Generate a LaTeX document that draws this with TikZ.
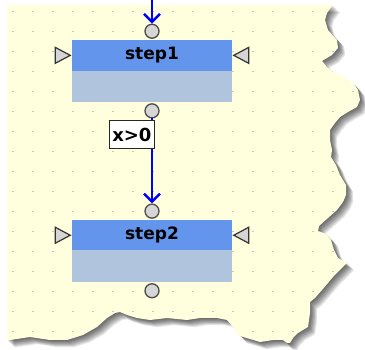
\documentclass[tikz,border=0pt]{standalone}
\usepackage{fontspec}
\setsansfont{DejaVu Sans}
\usetikzlibrary{positioning, arrows.meta, shapes.geometric}

\definecolor{paper}{RGB}{255,255,221}
\definecolor{stephead}{RGB}{100,149,237}
\definecolor{stepbody}{RGB}{176,196,222}
\definecolor{portgray}{RGB}{214,214,214}
\definecolor{dotgray}{RGB}{200,200,195}

\tikzset{
	stephead/.style={fill=stephead, minimum width=160pt, minimum height=30.5pt,
		inner sep=0pt, font=\sffamily\bfseries\fontsize{17}{17}\selectfont},
	stepbody/.style={fill=stepbody, minimum width=160pt, minimum height=31.5pt,
		inner sep=0pt},
	port/.style={circle, draw=black!70, fill=portgray, line width=1.3pt,
		minimum size=14pt, inner sep=0pt},
	tab/.style={isosceles triangle, isosceles triangle stretches,
		draw=black!80, fill=portgray, line width=1.2pt, minimum width=16pt,
		minimum height=15pt, inner sep=0pt},
	cond/.style={draw=black!85, fill=white, line width=1.2pt, minimum width=45pt,
		minimum height=28pt, inner sep=1pt,
		font=\sffamily\bfseries\fontsize{18}{18}\selectfont},
	flow/.style={draw=blue, line width=2.5pt,
		-{Straight Barb[length=8pt,width=16pt]}}
}

\def\paperoutline{(7,5) -- (333,5) -- (327,13) -- (325,20) -- (328,30)
	-- (337,40) -- (338,48) -- (332,55) -- (322,61) -- (327,67) -- (333,72)
	-- (343,77) -- (353,83) -- (358,90) -- (360,100) -- (357,107) -- (348,112)
	-- (340,117) -- (335,123) -- (330,130) -- (330,140) -- (332,150)
	-- (331,157) -- (336,165) -- (340,175) -- (346,185) -- (346,195)
	-- (343,202) -- (337,210) -- (328,218) -- (319,226) -- (318,231)
	-- (326,234) -- (331,240) -- (334,250) -- (338,258) -- (347,263)
	-- (340,270) -- (333,277) -- (328,283) -- (322,290) -- (315,298)
	-- (310,302) -- (310,313) -- (308,327) -- (303,330) -- (298,333)
	-- (293,338) -- (290,343) -- (287,343) -- (283,340) -- (273,340)
	-- (260,342) -- (240,336) -- (233,327) -- (227,320) -- (217,318)
	-- (200,318) -- (187,320) -- (167,318) -- (150,320) -- (137,318)
	-- (127,315) -- (120,312) -- (115,313) -- (107,318) -- (97,327)
	-- (83,335) -- (67,340) -- (50,340) -- (30,337) -- (10,340) -- (7,340)
	-- cycle}

\begin{document}
\begin{tikzpicture}[x=1pt, y=-1pt, >=Latex]
	\useasboundingbox[fill=white] (0,0) rectangle (365,350);

	% torn sheet
	\foreach \d in {1,...,9}
		\fill[black, opacity=0.085, shift={(\d*0.8,\d*0.8)}] \paperoutline;
	\fill[paper] \paperoutline;
	\begin{scope}
		\clip \paperoutline;
		\foreach \i in {0,...,17}
			\foreach \j in {0,...,16}
				\fill[dotgray] ({12+20*\i},{11.5+20*\j}) rectangle ++(2,1);
	\end{scope}

	% step1
	\node[stepbody] (step1body) at (152,86.25) {};
	\node[stephead, above=-0.5pt of step1body] (step1head) {step1};
	\node[port, above=1pt of step1head] (step1in) {};
	\node[port, below=1pt of step1body] (step1out) {};
	\node[tab, left=0pt of step1head] (step1left) {};
	\node[tab, shape border rotate=180, right=0pt of step1head] (step1right) {};

	% step2
	\node[stepbody, below=148pt of step1body] (step2body) {};
	\node[stephead, above=-0.5pt of step2body] (step2head) {step2};
	\node[port, above=1pt of step2head] (step2in) {};
	\node[port, below=1pt of step2body] (step2out) {};
	\node[tab, left=0pt of step2head] (step2left) {};
	\node[tab, shape border rotate=180, right=0pt of step2head] (step2right) {};

	\coordinate (entry) at (step1in |- 0,0);

	\draw[flow] (entry) -- (step1in);
	\draw[flow] (step1out) -- (step2in)
		node[cond, pos=0, anchor=north east, xshift=3pt, yshift=-1.5pt] {x>0};
\end{tikzpicture}
\end{document}
